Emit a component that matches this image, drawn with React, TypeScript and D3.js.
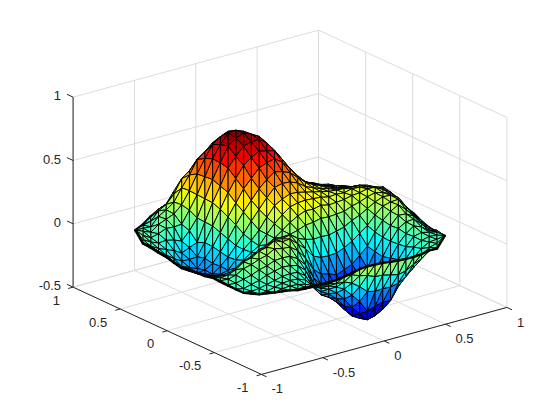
import * as d3 from "d3";

// Ticks shared by the x and y axes, and the z axis
const XY_TICKS = [-1, -0.5, 0, 0.5, 1];
const Z_TICKS = [-0.5, 0, 0.5, 1];

// Surface height. One list per column of constant screen
// position (u = -1 to 1 in steps of 0.05), running from the back rim to the front rim.
const Z_COLUMNS: number[][] = [
  [0.03],
  [-.06,-.04,-.02,0,.01,.02,.04,.06],
  [-.05,-.04,-.03,-.03,-.03,-.03,-.02,-.01,.03,.07,.08],
  [-.04,0,.03,.03,.01,-.02,-.05,-.05,-.03,.01,.05,.08],
  [-.035,.02,.06,.06,.03,0,-.05,-.08,-.08,-.05,-.01,.03,.08],
  [-.03,.1,.12,.1,.05,-.01,-.07,-.11,-.13,-.11,-.07,-.03,.01,.06],
  [-.03,.14,.22,.19,.1,-.01,-.1,-.15,-.17,-.17,-.13,-.09,-.05,-.01,.04],
  [-.03,.17,.26,.27,.19,.08,-.04,-.13,-.18,-.2,-.17,-.13,-.09,-.05,-.01,.04],
  [-.02,.2,.33,.37,.3,.18,.04,-.11,-.18,-.23,-.22,-.18,-.13,-.09,-.05,-.01,.04],
  [-.02,.15,.33,.41,.4,.3,.17,.03,-.09,-.17,-.22,-.21,-.17,-.12,-.08,-.04,0,.03],
  [-.02,.12,.32,.46,.49,.42,.3,.16,.02,-.1,-.19,-.23,-.21,-.16,-.12,-.08,-.04,0,.03],
  [-.02,.08,.3,.45,.53,.51,.41,.27,.13,-.01,-.12,-.19,-.21,-.18,-.13,-.09,-.05,-.02,0,.01],
  [-.02,.01,.28,.47,.55,.58,.52,.39,.24,.09,-.04,-.14,-.2,-.2,-.16,-.1,-.05,-.02,-.01,-.01,-.01],
  [-.02,.17,.38,.51,.58,.56,.46,.33,.18,.05,-.07,-.14,-.16,-.13,-.08,-.03,0,0,-.02,-.03],
  [-.02,.08,.3,.47,.55,.58,.52,.41,.27,.13,0,-.08,-.12,-.11,-.06,0,.04,.03,-.01,-.04,-.05],
  [-.02,.02,.19,.37,.48,.55,.53,.45,.33,.2,.08,-.03,-.08,-.08,-.04,.02,.05,.04,0,-.03,-.04,-.05],
  [-.02,.1,.28,.44,.51,.53,.48,.39,.27,.15,.03,-.05,-.07,-.03,.05,.08,.06,.02,-.02,-.04,-.05],
  [-.02,.01,.16,.31,.42,.48,.46,.41,.32,.22,.11,.02,-.02,0,.06,.09,.07,.03,0,-.03,-.04,-.04],
  [-.02,.07,.2,.33,.4,.44,.42,.36,.28,.18,.08,.01,.02,.09,.12,.1,.05,.01,-.02,-.03,-.03],
  [-.02,0,.1,.2,.29,.35,.37,.34,.29,.21,.13,.05,.04,.07,.09,.08,.05,.02,-.01,-.02,-.02,-.02],
  [-.02,.04,.11,.18,.25,.3,.31,.28,.23,.17,.09,.04,.08,.09,.07,.04,.01,-.01,-.02,-.02,-.01],
  [-.02,-.01,.05,.11,.17,.22,.25,.25,.22,.18,.12,.05,.03,.03,.02,0,-.01,-.02,-.03,-.03,-.02,-.01],
  [-.03,0,.05,.11,.15,.19,.2,.2,.18,.14,.07,0,-.03,-.06,-.07,-.07,-.07,-.06,-.05,-.03,0],
  [-.03,-.02,.02,.07,.11,.15,.17,.18,.17,.13,.07,-.02,-.11,-.17,-.19,-.19,-.17,-.14,-.09,-.04,-.01,.02],
  [-.04,0,.04,.08,.12,.14,.16,.16,.14,.08,-.02,-.14,-.23,-.27,-.28,-.26,-.22,-.15,-.08,-.02,.03],
  [-.04,-.02,.01,.05,.09,.12,.14,.14,.12,.07,-.03,-.15,-.25,-.3,-.32,-.3,-.26,-.19,-.11,-.04,.02,.04],
  [-.04,-.01,.02,.06,.1,.13,.14,.12,.07,-.02,-.15,-.28,-.34,-.37,-.36,-.32,-.25,-.16,-.07,0,.05],
  [-.03,0,.04,.08,.12,.13,.12,.07,-.01,-.13,-.26,-.36,-.41,-.43,-.4,-.33,-.23,-.11,-.01,.07],
  [-.03,-.02,.02,.07,.11,.14,.13,.09,.02,-.1,-.24,-.36,-.45,-.48,-.47,-.43,-.32,-.18,-.04,.07,.09],
  [-.02,0,.06,.1,.13,.13,.1,.04,-.06,-.19,-.31,-.4,-.46,-.49,-.47,-.39,-.25,-.09,.04,.11],
  [-.01,.02,.08,.11,.14,.12,.07,-.02,-.14,-.27,-.37,-.44,-.48,-.5,-.46,-.35,-.15,.02,.12],
  [0,.04,.09,.13,.13,.1,.04,-.05,-.16,-.27,-.35,-.42,-.48,-.45,-.33,-.17,-.01,.12],
  [.02,.06,.09,.11,.12,.09,.02,-.07,-.18,-.27,-.34,-.41,-.42,-.32,-.17,-.02,.12],
  [-.01,.05,.08,.11,.1,.07,0,-.08,-.17,-.25,-.32,-.37,-.33,-.18,-.04,.11],
  [-.05,.02,.07,.1,.1,.06,0,-.08,-.16,-.22,-.25,-.24,-.17,-.06,.1],
  [-.08,-.02,.02,.04,.05,.03,-.02,-.08,-.13,-.17,-.18,-.14,-.05,.09],
  [-.1,-.07,-.03,.01,.03,.02,-.02,-.06,-.1,-.11,-.09,-.02,.08],
  [-.13,-.09,-.06,-.03,-.01,-.01,-.03,-.05,-.06,-.04,0,.07],
  [-.14,-.12,-.09,-.06,-.03,-.02,-.02,-.02,0,.04,.06],
  [-.12,-.08,-.05,-.03,-.02,-.01,0,.02],
  [-.015],
];

// MATLAB's default view: az -37.5, el 30, stretched to fill the axes
const AZ = (37.5 * Math.PI) / 180;
const uScale = d3.scaleLinear().domain([-1, 1]).range([135.3, 444.7]);
const vScale = d3.scaleLinear().domain([-1, 1]).range([-55, 55]);
const zScale = d3.scaleLinear().domain([-0.5, 1]).range([297.3, 107.3]);

const jet = d3
  .scaleLinear<string>()
  .domain([0, 0.125, 0.375, 0.625, 0.875, 1])
  .range(["#00007f", "#0000ff", "#00ffff", "#ffff00", "#ff0000", "#7f0000"]);

type Node = { u: number; v: number; z: number };

function toScreen(u: number, v: number, z: number): [number, number] {
  return [uScale(u), zScale(z) + vScale(v)];
}

// data x,y to the screen-aligned u,v (v grows toward the viewer)
function box(x: number, y: number, z: number): [number, number] {
  const u = x * Math.cos(AZ) - y * Math.sin(AZ);
  const v = -(x * Math.sin(AZ) + y * Math.cos(AZ));
  return toScreen(u, v, z);
}

function columnNodes(zs: number[], i: number): Node[] {
  const u = i / 20 - 1;
  if (zs.length === 1) return [{ u, v: 0, z: zs[0] }];
  const c = Math.sqrt(1 - u * u);
  const offset = i % 2 ? 0.05 : 0;
  const inner = d3
    .range(-11, 11)
    .map((k) => k / 10 + offset)
    .filter((v) => Math.abs(v) < c - 0.015);
  const vs =
    inner.length + 2 === zs.length
      ? [-c, ...inner, c]
      : zs.map((_, k) => -c + (2 * c * k) / (zs.length - 1));
  return zs.map((z, k) => ({ u, v: vs[k], z }));
}

const columns = Z_COLUMNS.map(columnNodes);
const nodes = columns.flat();
const colorT = d3.scaleLinear().domain(d3.extent(nodes, (n) => n.z) as [number, number]).range([0, 1]);

const depth = (n: { v: number; z: number }) => 95.3 * n.v + 73 * n.z;

function line(a: [number, number], b: [number, number]) {
  return `M${a[0]},${a[1]}L${b[0]},${b[1]}`;
}

type Item = { d: number; path: string; fill?: string };

function buildSurface(): Item[] {
  const items: Item[] = [];
  // v squeezed by half so the staggered columns mesh into near-equilateral
  // triangles with upright edges, like the reference
  const tri = d3.Delaunay.from(nodes, (n) => n.u, (n) => n.v / 2).triangles;
  for (let t = 0; t < tri.length; t += 3) {
    const abc = [nodes[tri[t]], nodes[tri[t + 1]], nodes[tri[t + 2]]];
    const pts = abc.map((n) => toScreen(n.u, n.v, n.z));
    items.push({
      d: d3.mean(abc, depth) as number,
      path: `M${pts.join("L")}Z`,
      fill: jet(colorT(d3.mean(abc, (n) => n.z) as number)),
    });
  }
  // thick rim: the real mesh gets very dense at the boundary
  [(c: Node[]) => c[0], (c: Node[]) => c[c.length - 1]].forEach((pick) => {
    d3.pairs(columns.map(pick)).forEach(([a, b]) => {
      items.push({
        d: (depth(a) + depth(b)) / 2 + 1.5,
        path: line(toScreen(a.u, a.v, a.z), toScreen(b.u, b.v, b.z)),
      });
    });
  });
  return items.sort((a, b) => a.d - b.d);
}

const GRID = "#dcdcdc";
const AXIS = "#262626";
const FONT = { fontFamily: "'Liberation Sans', Arial, sans-serif", fontSize: 13, fill: AXIS };

export default function App() {
  const surface = buildSurface();
  const gridLines: string[] = [];
  XY_TICKS.forEach((t) => {
    gridLines.push(line(box(t, -1, -0.5), box(t, 1, -0.5)));
    gridLines.push(line(box(-1, t, -0.5), box(1, t, -0.5)));
    gridLines.push(line(box(t, 1, -0.5), box(t, 1, 1)));
    gridLines.push(line(box(1, t, -0.5), box(1, t, 1)));
  });
  Z_TICKS.forEach((t) => {
    gridLines.push(line(box(-1, 1, t), box(1, 1, t)));
    gridLines.push(line(box(1, 1, t), box(1, -1, t)));
  });

  return (
    <svg
      width={560}
      height={420}
      style={{ position: "absolute", left: 0, top: 0, background: "#fff" }}
    >
      <g fill="none" stroke={GRID} strokeWidth={1}>
        {gridLines.map((d, i) => (
          <path key={i} d={d} />
        ))}
      </g>

      <g fill="none" stroke={AXIS} strokeWidth={1}>
        <path d={line(box(-1, -1, -0.5), box(1, -1, -0.5))} />
        <path d={line(box(-1, -1, -0.5), box(-1, 1, -0.5))} />
        <path d={line(box(-1, 1, -0.5), box(-1, 1, 1))} />
        {XY_TICKS.map((t) => (
          <path key={`x${t}`} d={line(box(t, -1, -0.5), box(t, -1.055, -0.5))} />
        ))}
        {XY_TICKS.map((t) => (
          <path key={`y${t}`} d={line(box(-1, t, -0.5), box(-1.04, t, -0.5))} />
        ))}
        {Z_TICKS.map((t) => (
          <path key={`z${t}`} d={line(box(-1, 1, t), box(-1, 1.065, t))} />
        ))}
      </g>

      <g>
        {surface.map((s, i) =>
          s.fill ? (
            <path key={i} d={s.path} fill={s.fill} stroke="#000" strokeWidth={0.95} strokeLinejoin="round" />
          ) : (
            <path key={i} d={s.path} fill="none" stroke="#000" strokeWidth={2.4} strokeLinecap="round" />
          )
        )}
      </g>

      <g {...FONT}>
        {XY_TICKS.map((t) => {
          const [px, py] = box(t, -1, -0.5);
          return (
            <text key={`xl${t}`} x={px + 10} y={py + 14.5} dy="0.35em">
              {t}
            </text>
          );
        })}
        {XY_TICKS.map((t) => {
          const [px, py] = box(-1, t, -0.5);
          return (
            <text key={`yl${t}`} x={px - 13} y={py + 13} dy="0.35em" textAnchor="end">
              {t}
            </text>
          );
        })}
        {Z_TICKS.map((t) => {
          const [px, py] = box(-1, 1, t);
          return (
            <text key={`zl${t}`} x={px - 12} y={py - 1.5} dy="0.35em" textAnchor="end">
              {t}
            </text>
          );
        })}
      </g>
    </svg>
  );
}
